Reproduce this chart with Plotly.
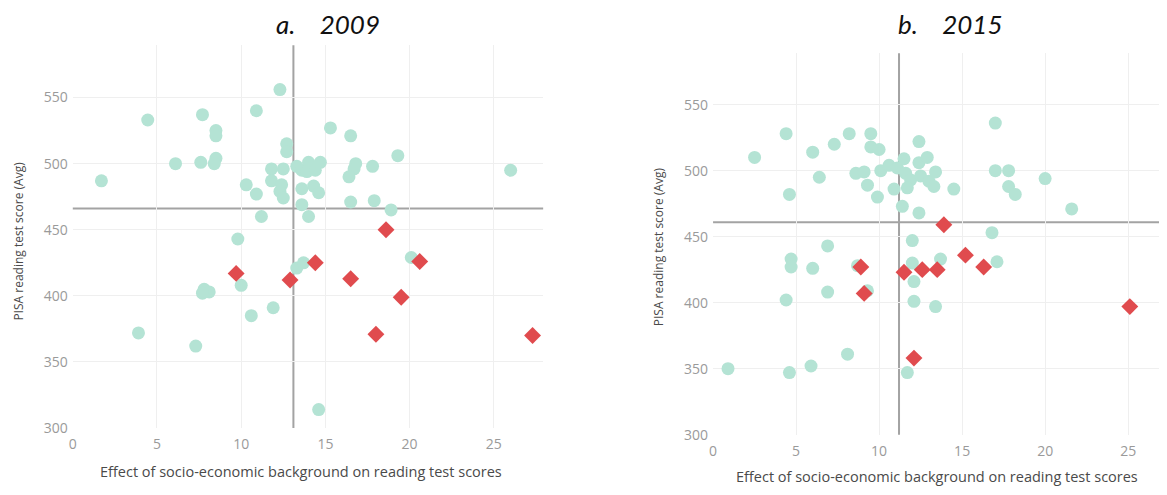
import plotly.graph_objects as go

# ---------------- data: a. 2009 ----------------
a_x = [1.7, 4.45, 6.1, 7.7, 7.6, 8.5, 8.5, 8.5, 8.4, 12.3, 10.9, 10.3, 10.9, 11.2,
       11.8, 11.8, 12.5, 12.7, 12.7, 12.4, 12.3, 12.5, 13.3, 13.6, 14.0, 13.9, 14.4,
       14.7, 13.6, 14.3, 14.6, 13.6, 14.0, 15.3, 16.5, 16.8, 16.7, 16.4, 16.5, 17.8,
       17.9, 19.3, 18.9, 26.0, 9.8, 20.1, 13.3, 13.7, 7.8, 8.1, 7.7, 10.0, 11.9, 10.6,
       3.9, 7.3, 14.6]
a_y = [487, 533, 500, 537, 501, 525, 521, 504, 500, 556, 540, 484, 477, 460,
       496, 487, 496, 515, 509, 484, 479, 474, 498, 495, 501, 494, 495,
       501, 481, 483, 478, 469, 460, 527, 521, 500, 496, 490, 471, 498,
       472, 506, 465, 495, 443, 429, 421, 425, 405, 403, 402, 408, 391, 385,
       372, 362, 314]
a_hx = [18.6, 9.7, 12.9, 14.4, 16.5, 20.6, 19.5, 18.0, 27.3]
a_hy = [450, 417, 412, 425, 413, 426, 399, 371, 370]
a_ref_x = 13.1
a_ref_y = 466

# ---------------- data: b. 2015 ----------------
b_x = [2.5, 4.4, 4.6, 6.0, 6.4, 7.3, 8.2, 9.5, 9.5, 10.0, 8.6, 9.1, 9.3, 9.9,
       10.1, 10.6, 11.1, 11.5, 10.9, 11.6, 11.9, 11.7, 11.4, 12.4, 12.4, 12.9, 12.5,
       13.0, 13.4, 13.3, 14.5, 12.4, 17.0, 17.0, 17.8, 17.8, 18.2, 20.0, 21.6, 16.8,
       12.0, 6.9, 4.7, 4.7, 6.0, 8.7, 12.0, 13.7, 17.1, 12.1, 6.9, 9.3, 4.4, 12.1,
       13.4, 8.1, 5.9, 0.9, 4.6, 11.7]
b_y = [510, 528, 482, 514, 495, 520, 528, 528, 518, 516, 498, 499, 489, 480,
       500, 504, 502, 509, 486, 498, 493, 487, 473, 522, 506, 510, 496,
       492, 499, 488, 486, 468, 536, 500, 500, 488, 482, 494, 471, 453,
       447, 443, 433, 427, 426, 428, 430, 433, 431, 416, 408, 409, 402, 401,
       397, 361, 352, 350, 347, 347]
b_hx = [13.9, 8.9, 9.1, 11.5, 12.6, 13.5, 15.2, 16.3, 12.1, 25.1]
b_hy = [459, 427, 407, 423, 425, 425, 436, 427, 358, 397]
b_ref_x = 11.2
b_ref_y = 461

x_ticks = [0, 5, 10, 15, 20, 25]
y_ticks = [300, 350, 400, 450, 500, 550]
titles = ["a.\u00a0\u00a0\u00a0\u00a02009", "b.\u00a0\u00a0\u00a0\u00a02015"]
x_title = "Effect of socio-economic background on reading test scores"
y_title = "PISA reading test score (Avg)"

TEAL = "#B4E3D4"
RED = "#E04B4E"
REF = "#A3A3A3"

# page has an 8px body margin; figure sized so it fills the 1167x495 window
OFF = 8
W, H = 1167 - OFF, 495 - OFF


def px(x):
    return (x - OFF) / W


def py(y):
    return 1 - (y - OFF) / H


fig = go.Figure()
for xs, ys, hx, hy, xa, ya in [(a_x, a_y, a_hx, a_hy, "x", "y"),
                               (b_x, b_y, b_hx, b_hy, "x2", "y2")]:
    fig.add_trace(go.Scatter(x=xs, y=ys, mode="markers", xaxis=xa, yaxis=ya,
                             marker=dict(symbol="circle", size=13, color=TEAL,
                                         line=dict(width=0)),
                             hoverinfo="skip", showlegend=False))
    fig.add_trace(go.Scatter(x=hx, y=hy, mode="markers", xaxis=xa, yaxis=ya,
                             marker=dict(symbol="diamond", size=13, color=RED,
                                         line=dict(width=0)),
                             hoverinfo="skip", showlegend=False))

tickfont = dict(family="Open Sans", size=14, color="#9a9a9a")
common_x = dict(tickvals=x_ticks, showgrid=True, gridcolor="#efefef", gridwidth=1,
                zeroline=False, showline=False, ticks="", tickfont=tickfont,
                ticklabelstandoff=6, fixedrange=True)
common_y = dict(tickvals=y_ticks, showgrid=True, gridcolor="#efefef", gridwidth=1,
                zeroline=False, showline=False, ticks="", tickfont=tickfont,
                ticklabelstandoff=4, fixedrange=True)

fig.update_layout(
    width=W, height=H,
    margin=dict(l=0, r=0, t=0, b=0),
    paper_bgcolor="white", plot_bgcolor="white",
    xaxis=dict(domain=[px(69), px(541)], range=[0, 27.93], anchor="y", **common_x),
    yaxis=dict(domain=[py(436), py(46)], range=[300, 589.5], anchor="x", **common_y),
    xaxis2=dict(domain=[px(711.5), 1.0], range=[0, 27.34], anchor="y2", **common_x),
    yaxis2=dict(domain=[py(442.7), py(54)], range=[300, 589], anchor="x2", **common_y),
)

shapes = []
for rx, ry, xa, ya in [(a_ref_x, a_ref_y, "x", "y"), (b_ref_x, b_ref_y, "x2", "y2")]:
    shapes.append(dict(type="line", xref=xa, yref=ya + " domain", x0=rx, x1=rx, y0=0, y1=1,
                       line=dict(color=REF, width=2), layer="below"))
    shapes.append(dict(type="line", xref=xa + " domain", yref=ya, x0=0, x1=1, y0=ry, y1=ry,
                       line=dict(color=REF, width=2), layer="below"))
fig.update_layout(shapes=shapes)

title_font = dict(family="Lato", size=26, color="#111111", style="italic")
axis_font_x = dict(family="Open Sans", size=14.5, color="#4a4a4a")
axis_font_y = dict(family="Open Sans", size=12, color="#4a4a4a")
ann = [
    dict(text=titles[0], x=px(325), y=py(24), font=title_font),
    dict(text=titles[1], x=px(949), y=py(24), font=title_font),
    dict(text=x_title, x=px(298), y=py(480), font=axis_font_x),
    dict(text=x_title, x=px(936.5), y=py(485), font=axis_font_x),
    dict(text=y_title, x=px(15), y=py(245), font=axis_font_y, textangle=-90),
    dict(text=y_title, x=px(657), y=py(251), font=axis_font_y, textangle=-90),
]
for a in ann:
    a.update(xref="paper", yref="paper", showarrow=False, xanchor="center", yanchor="middle")
fig.update_layout(annotations=ann)

fig.write_html("out.html")
